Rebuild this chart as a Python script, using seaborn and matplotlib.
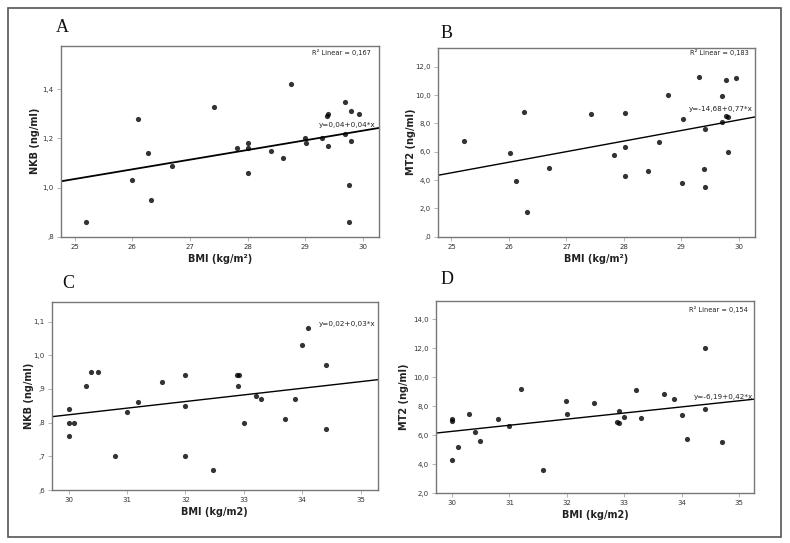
import numpy as np
import pandas as pd
import seaborn as sns
import matplotlib
matplotlib.use("Agg")
import matplotlib.pyplot as plt
from matplotlib.patches import Rectangle
from matplotlib.ticker import FuncFormatter

# ---------------- data ----------------
bmi_A = [25.2, 26.0, 26.1, 26.27, 26.32, 26.69, 27.42, 27.82, 28.0, 28.0, 28.0, 28.4, 28.61,
         28.75, 29.0, 29.02, 29.3, 29.38, 29.4, 29.4, 29.69, 29.69, 29.76, 29.76, 29.79, 29.79, 29.94]
nkb_A = [0.86, 1.03, 1.28, 1.14, 0.95, 1.09, 1.33, 1.16, 1.18, 1.16, 1.06, 1.15, 1.12,
         1.42, 1.20, 1.18, 1.20, 1.29, 1.30, 1.17, 1.35, 1.22, 1.01, 0.86, 1.31, 1.19, 1.30]

bmi_B = [25.22, 26.02, 26.12, 26.26, 26.32, 26.69, 27.42, 27.82, 28.02, 28.02, 28.02, 28.41, 28.61,
         28.76, 29.01, 29.03, 29.31, 29.39, 29.41, 29.41, 29.71, 29.71, 29.77, 29.77, 29.81, 29.81, 29.95]
mt2_B = [6.78, 5.88, 3.93, 8.82, 1.74, 4.87, 8.66, 5.79, 8.71, 6.31, 4.28, 4.64, 6.68,
         10.0, 3.76, 8.31, 11.25, 4.8, 7.62, 3.53, 9.93, 8.12, 11.06, 8.52, 8.42, 6.0, 11.18]

bmi_C = [30.0, 30.0, 30.0, 30.1, 30.3, 30.39, 30.5, 30.8, 31.0, 31.19, 31.6, 31.99, 32.0, 32.0,
         32.47, 32.89, 32.91, 32.9, 33.0, 33.2, 33.3, 33.71, 33.88, 34.0, 34.1, 34.41, 34.41]
nkb_C = [0.84, 0.80, 0.76, 0.80, 0.91, 0.95, 0.95, 0.70, 0.83, 0.86, 0.92, 0.94, 0.85, 0.70,
         0.66, 0.94, 0.94, 0.91, 0.80, 0.88, 0.87, 0.81, 0.87, 1.03, 1.08, 0.97, 0.78]

bmi_D = [30.0, 30.0, 30.0, 30.1, 30.3, 30.4, 30.49, 30.8, 31.0, 31.2, 31.59, 31.99, 32.0, 32.47,
         32.87, 32.9, 32.9, 33.0, 33.2, 33.3, 33.7, 33.87, 34.0, 34.1, 34.4, 34.4, 34.7]
mt2_D = [7.14, 7.0, 4.32, 5.21, 7.44, 6.22, 5.62, 7.14, 6.66, 9.2, 3.58, 8.33, 7.48, 8.24,
         6.93, 6.82, 7.64, 7.23, 9.11, 7.18, 8.83, 8.51, 7.37, 5.74, 12.02, 7.78, 5.53]

panel_letters = ["A", "B", "C", "D"]
x_labels = ["BMI (kg/m²)", "BMI (kg/m²)", "BMI (kg/m2)", "BMI (kg/m2)"]
y_labels = ["NKB (ng/ml)", "MT2 (ng/ml)", "NKB (ng/ml)", "MT2 (ng/ml)"]
r2_texts = ["R² Linear = 0,167", "R² Linear = 0,183", None, "R² Linear = 0,154"]
eq_texts = ["y=0,04+0,04*x", "y=-14,68+0,77*x", "y=0,02+0,03*x", "y=-6,19+0,42*x"]
x_ticks_AB = [25, 26, 27, 28, 29, 30]
x_ticks_CD = [30, 31, 32, 33, 34, 35]
y_ticks = [[0.8, 1.0, 1.2, 1.4], [0, 2, 4, 6, 8, 10, 12],
           [0.6, 0.7, 0.8, 0.9, 1.0, 1.1], [2, 4, 6, 8, 10, 12, 14]]

# ---------------- layout ----------------
sns.set_theme(style="white")
plt.rcParams["font.family"] = ["DejaVu Sans"]

fig = plt.figure(figsize=(7.9, 5.43), dpi=100)
fig.patch.set_facecolor("white")

W, H = 790, 543
def box(l, t, r, b):
    return [l / W, 1 - b / H, (r - l) / W, (b - t) / H]

axes_px = [(60.7, 45.7, 379, 236.7), (437.7, 47.7, 755, 236.7),
           (51.7, 302.3, 377.7, 490), (436, 301, 754, 493.3)]
letter_px = [(62.7, 27), (446.7, 33), (68.3, 283.5), (446.7, 280)]
xlims = [(24.76, 30.28), (24.76, 30.28), (29.71, 35.29), (29.72, 35.26)]
ylims = [(0.8, 1.578), (0, 13.34), (0.6, 1.157), (2, 15.24)]
eq_pos = [(0.99, 0.585), (0.994, 0.676), (0.994, 0.883), (0.998, 0.50)]
r2_pos = [(0.975, 0.963), (0.981, 0.974), None, (0.981, 0.957)]
ylabel_x = [35, 411, 29, 404]

datasets = [(bmi_A, nkb_A), (bmi_B, mt2_B), (bmi_C, nkb_C), (bmi_D, mt2_D)]

def fmt_val(v, pos):
    s = f"{v:.1f}".replace(".", ",")
    if s.startswith("0,"):
        s = s[1:]
    return s

for i, (xs, ys) in enumerate(datasets):
    ax = fig.add_axes(box(*axes_px[i]))
    df = pd.DataFrame({"x": xs, "y": ys})
    ax.set_xlim(*xlims[i])
    ax.set_ylim(*ylims[i])
    sns.regplot(data=df, x="x", y="y", ax=ax, ci=None, truncate=False,
                scatter_kws=dict(s=14, color="black", linewidths=0),
                line_kws=dict(color="black", lw=1.3 if i == 0 else 1.0))
    ax.set_xlim(*xlims[i])
    ax.set_ylim(*ylims[i])
    ax.set_xticks(x_ticks_AB if i < 2 else x_ticks_CD)
    ax.set_yticks(y_ticks[i])
    ax.xaxis.set_major_formatter(FuncFormatter(lambda v, p: f"{int(round(v))}"))
    ax.yaxis.set_major_formatter(FuncFormatter(fmt_val))
    ax.tick_params(axis="both", which="major", labelsize=5, length=3, width=0.6,
                   color="#aaaaaa", labelcolor="#333333", direction="out", pad=2,
                   bottom=True, left=True)
    for sp in ax.spines.values():
        sp.set_color("#777777")
        sp.set_linewidth(1.0)
    ax.set_xlabel(x_labels[i], fontsize=7, fontweight="bold", color="#222222", labelpad=3)
    ax.set_ylabel("")
    cy = (axes_px[i][1] + axes_px[i][3]) / 2
    fig.text(ylabel_x[i] / W, 1 - cy / H, y_labels[i], rotation=90, fontsize=7,
             fontweight="bold", color="#222222", ha="center", va="center")
    ex, ey = eq_pos[i]
    ax.text(ex, ey, eq_texts[i], transform=ax.transAxes, ha="right", va="center",
            fontsize=5.2, color="#222222")
    if r2_texts[i] is not None:
        rx, ry = r2_pos[i]
        ax.text(rx, ry, r2_texts[i], transform=ax.transAxes, ha="right", va="center",
                fontsize=4.8, color="#222222")
    lx, ly = letter_px[i]
    fig.text(lx / W, 1 - ly / H, panel_letters[i], fontsize=13,
             family="Liberation Serif", ha="center", va="center", color="#111111")

fig.patches.append(Rectangle((8 / W, 1 - 537 / H), 773 / W, 529 / H, transform=fig.transFigure,
                             fill=False, edgecolor="#555555", linewidth=1.2))

fig.savefig("out.png", dpi=100, facecolor="white")
